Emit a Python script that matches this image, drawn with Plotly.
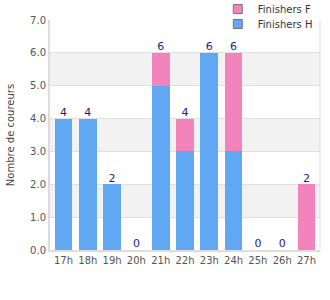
import plotly.graph_objects as go

categories = ["17h", "18h", "19h", "20h", "21h", "22h", "23h", "24h", "25h", "26h", "27h"]
finishers_h = [4, 4, 2, 0, 5, 3, 6, 3, 0, 0, 0]
finishers_f = [0, 0, 0, 0, 1, 1, 0, 3, 0, 0, 2]
totals = [h + f for h, f in zip(finishers_h, finishers_f)]
y_ticks = [0, 1, 2, 3, 4, 5, 6, 7]

BLUE = "#60a8f2"
PINK = "#f383bb"
FONT = "DejaVu Sans"

fig = go.Figure()
fig.add_trace(go.Bar(x=categories, y=finishers_h, marker=dict(color=BLUE, line=dict(width=0)),
                     width=0.73, showlegend=False, name="Finishers H"))
fig.add_trace(go.Bar(x=categories, y=finishers_f, marker=dict(color=PINK, line=dict(width=0)),
                     width=0.73, showlegend=False, name="Finishers F"))
fig.add_trace(go.Scatter(x=categories, y=totals, mode="text", text=[str(t) for t in totals],
                         textposition="top center", textfont=dict(color="#1c1c8c", size=11, family=FONT),
                         showlegend=False, hoverinfo="skip", cliponaxis=False))
# legend entries
fig.add_trace(go.Scatter(x=[None], y=[None], mode="markers", name="Finishers F", legend="legend",
                         marker=dict(symbol="square", size=9, color=PINK, line=dict(color="#777777", width=1))))
fig.add_trace(go.Scatter(x=[None], y=[None], mode="markers", name="Finishers H", legend="legend2",
                         marker=dict(symbol="square", size=9, color=BLUE, line=dict(color="#777777", width=1))))

shapes = []
for lo in [1, 3, 5]:
    shapes.append(dict(type="rect", xref="paper", yref="y", x0=0, x1=1, y0=lo, y1=lo + 1,
                       fillcolor="#f2f2f2", line=dict(width=0), layer="below"))
shapes.append(dict(type="line", xref="paper", yref="paper", x0=1, x1=1, y0=0, y1=1,
                   line=dict(color="#dddddd", width=1)))

leg_common = dict(xref="container", yref="container", xanchor="left", yanchor="middle",
                  font=dict(size=10, color="#333333"), itemwidth=30, borderwidth=0)

fig.update_layout(
    width=330, height=300,
    margin=dict(l=50, r=10, t=20, b=50, autoexpand=False),
    barmode="stack",
    bargap=0.27,
    plot_bgcolor="white",
    paper_bgcolor="white",
    font=dict(family=FONT, size=10, color="#444444"),
    shapes=shapes,
    legend=dict(x=0.66, y=0.97, bgcolor="white", **leg_common),
    legend2=dict(x=0.66, y=0.92, bgcolor="rgba(0,0,0,0)", **leg_common),
    xaxis=dict(type="category", categoryorder="array", categoryarray=categories,
               showline=True, linecolor="#dddddd", linewidth=2, ticks="", showgrid=False,
               tickangle=0, tickfont=dict(size=10, color="#555555")),
    yaxis=dict(range=[0, 7], tickvals=y_ticks, ticktext=[f"{v:.1f}" for v in y_ticks],
               showline=True, linecolor="#dddddd", linewidth=2, gridcolor="#e0e0e0",
               zeroline=False, ticks="",
               title=dict(text="Nombre de coureurs", font=dict(size=10, color="#444444"), standoff=14),
               tickfont=dict(size=10, color="#555555")),
)

fig.write_html("out.html")
